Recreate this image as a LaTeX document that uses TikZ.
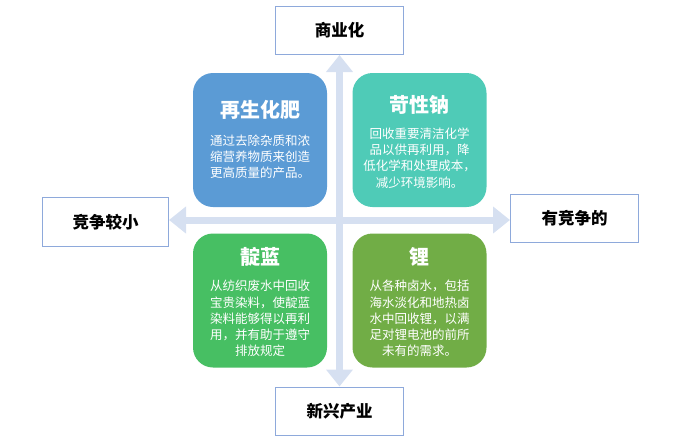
\documentclass[tikz,border=0pt]{standalone}
\usepackage{fontspec}
\setmainfont{Noto Sans CJK SC}
\usetikzlibrary{arrows.meta}
\definecolor{cblue}{HTML}{5B9BD5}
\definecolor{cteal}{HTML}{4FCBB7}
\definecolor{cgreen}{HTML}{47BF63}
\definecolor{colive}{HTML}{71AD46}
\definecolor{carrow}{HTML}{D6E0F1}
\definecolor{cbord}{HTML}{8EA9DB}
\begin{document}
\begin{tikzpicture}[x=1pt,y=-1pt,
  axislabel/.style={draw=cbord, line width=1pt, fill=white, minimum width=128pt, minimum height=48pt, inner sep=0pt, font=\fontsize{16.5}{20}\selectfont\bfseries, text=black},
  quad/.style={rounded corners=20pt, minimum width=134pt, minimum height=134pt, inner sep=0pt},
  qtitle/.style={text=white, inner sep=0pt, font=\fontsize{20}{24}\selectfont\bfseries},
  qbody/.style={text=white, inner sep=0pt, align=center, font=\fontsize{12.5}{16.2}\selectfont},
  axisline/.style={draw=carrow, line width=7pt, {Triangle[width=26pt,length=17pt]}-{Triangle[width=26pt,length=17pt]}}]
\useasboundingbox (0,0) rectangle (679,442);
\node[axislabel] (top) at (339.5,30.5) {商业化};
\node[axislabel] (bot) at (339.5,411) {新兴产业};
\node[axislabel, minimum width=126pt, minimum height=49pt] (lft) at (105.5,222) {竞争较小};
\node[axislabel] (rgt) at (574.5,218.5) {有竞争的};
\coordinate (hc) at (339.5,220);
\draw[axisline] (top.south) -- (bot.north);
\draw[axisline] (lft.east |- hc) -- (rgt.west |- hc);
% quadrants
\node[quad, fill=cblue] (q1) at (260,140) {};
\node[qtitle] (t1) at (260,110) {再生化肥};
\node[qbody] (b1) at (260,157) {通过去除杂质和浓\\缩营养物质来创造\\更高质量的产品。};
\node[quad, fill=cteal] (q2) at (419.5,140) {};
\node[qtitle] (t2) at (419.5,105) {苛性钠};
\node[qbody] (b2) at (419.5,158) {回收重要清洁化学\\品以供再利用，降\\低化学和处理成本，\\减少环境影响。};
\node[quad, fill=cgreen] (q3) at (260,300.5) {};
\node[qtitle] (t3) at (260,257) {靛蓝};
\node[qbody] (b3) at (260,318.5) {从纺织废水中回收\\宝贵染料，使靛蓝\\染料能够得以再利\\用，并有助于遵守\\排放规定};
\node[quad, fill=colive] (q4) at (419.5,300.5) {};
\node[qtitle] (t4) at (419.5,257) {锂};
\node[qbody] (b4) at (419.5,318.5) {从各种卤水，包括\\海水淡化和地热卤\\水中回收锂，以满\\足对锂电池的前所\\未有的需求。};
\end{tikzpicture}
\end{document}
